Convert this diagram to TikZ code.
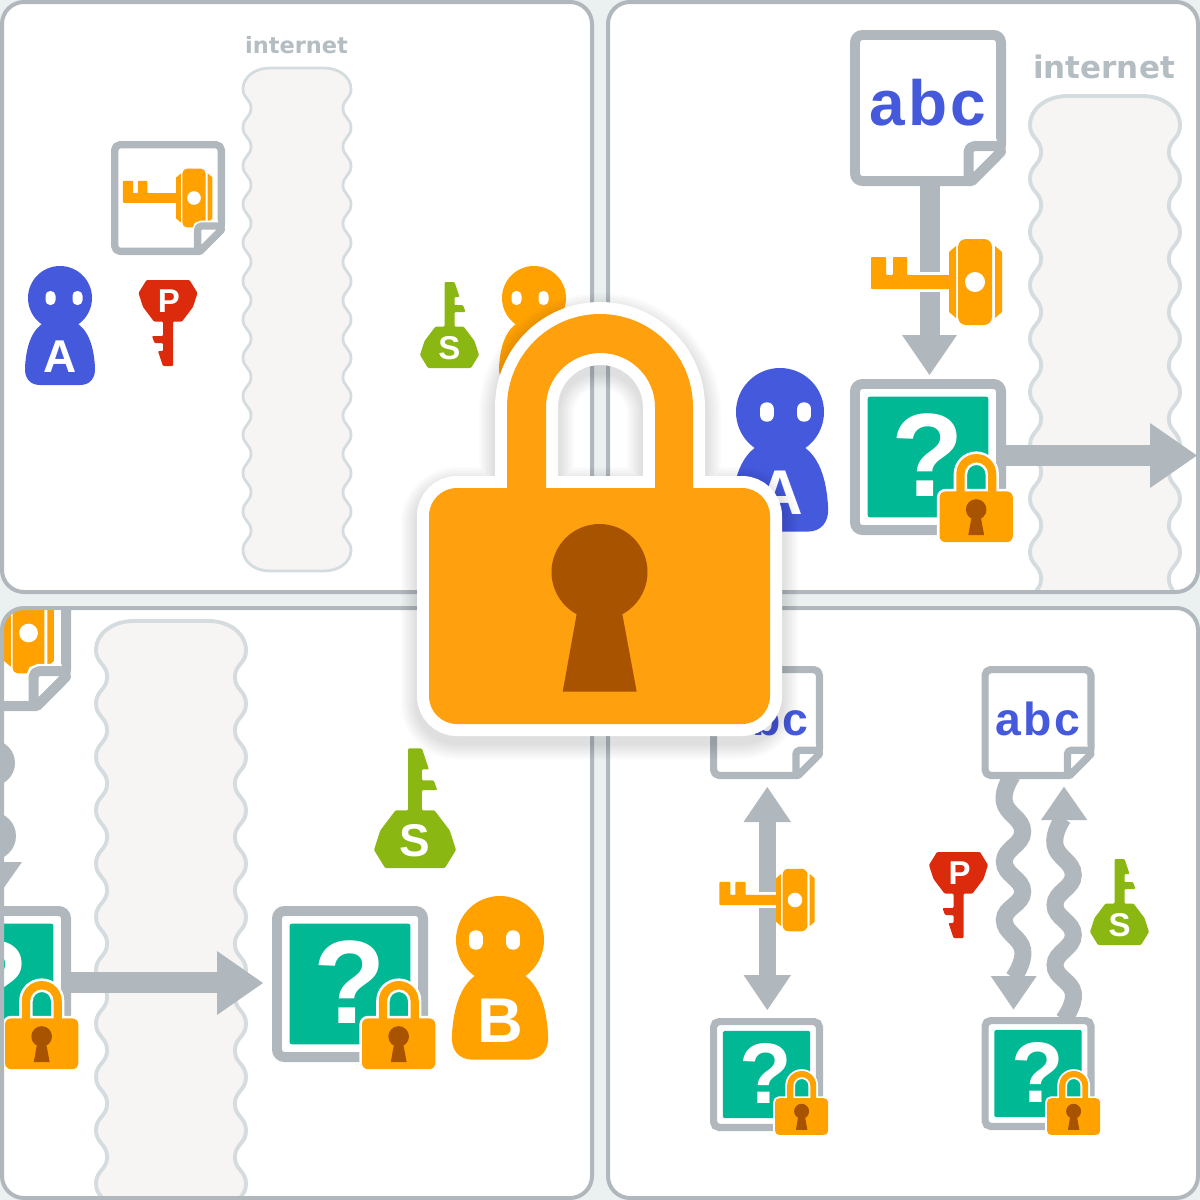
\documentclass[tikz,border=0pt]{standalone}
\usepackage{fontspec}
\setmainfont{Liberation Sans}
\newfontfamily\netfont{DejaVu Sans}
\newfontfamily\abcfont[LetterSpace=5]{Liberation Sans}
\definecolor{cgray}{HTML}{B0B8BD}
\definecolor{cblue}{HTML}{4559DD}
\definecolor{corange}{HTML}{FFA200}
\definecolor{cbig}{HTML}{FFA00F}
\definecolor{cbrown}{HTML}{A85300}
\definecolor{cteal}{HTML}{00B894}
\definecolor{cred}{HTML}{DC2A0C}
\definecolor{cgreen}{HTML}{8AB712}
\definecolor{cbg}{HTML}{EBF0F0}
\definecolor{ccloud}{HTML}{F6F5F3}
\definecolor{ccline}{HTML}{D5DCDF}
\definecolor{cnet}{HTML}{B4BDC2}
\tikzset{
  panelframe/.style={draw=cgray,line width=4pt},
  bold text/.style={inner sep=0pt,font=\fontsize{#1}{#1}\selectfont\bfseries},
  net text/.style={inner sep=0pt,text=cnet,font=\netfont\fontsize{#1}{#1}\selectfont\bfseries},
}
% ---------- page-like outline, canonical 100-unit interior
\newcommand\docicon[4]{\begingroup
  \pgfmathsetmacro\uu{#3/100}\pgfmathsetmacro\lw{6.4*\uu}\pgfmathsetmacro\lwh{9.4*\uu}\pgfmathsetmacro\rc{4.8*\uu}\pgfmathsetmacro\rf{3.5*\uu}
  \begin{scope}[shift={(#1,#2)},scale=\uu]
    \draw[cgray,fill=white,line width=\lw pt,line join=round]
      (3.2,12) [rounded corners=\rc pt] -- (3.2,3.2) -- (96.8,3.2) -- (96.8,78) [sharp corners] -- (78,96.8) [rounded corners=\rc pt] -- (3.2,96.8) -- (3.2,12);
    #4
    \draw[white,line width=\lwh pt,rounded corners=\rf pt] (76,93) -- (76,74.5) -- (94,74.5);
    \fill[white] (76,74.5) -- (96,74.5) -- (96,78) -- (78,96) -- (76,96) -- cycle;
    \draw[cgray,line width=\lw pt,line join=round] (76,98) [rounded corners=\rf pt] -- (76,74.5) -- (96.8,74.5) [sharp corners] -- (96.8,78) -- (78,96.8);
  \end{scope}
\endgroup}
\newcommand\abctext[1]{\pgfmathsetmacro\fs{41*#1/100}%
  \node[inner sep=0pt,text=cblue,anchor=base,font=\abcfont\fontsize{\fs}{\fs}\selectfont\bfseries] (abclabel) at (50,61.5) {abc};}
% ---------- locked "?" box
\newcommand\qbox[3]{\begingroup
  \pgfmathsetmacro\uu{#3/100}\pgfmathsetmacro\lw{6.4*\uu}\pgfmathsetmacro\fs{76*\uu}\pgfmathsetmacro\rc{4.8*\uu}\pgfmathsetmacro\rt{1.5*\uu}
  \begin{scope}[shift={(#1,#2)},scale=\uu]
    \draw[cgray,fill=white,line width=\lw pt,rounded corners=\rc pt] (3.2,3.2) rectangle (96.8,96.8);
    \fill[cteal,rounded corners=\rt pt] (11.3,11.3) rectangle (88.7,88.7);
    \node[bold text=\fs,text=white] (qmark) at (49.6,48.7) {?};
  \end{scope}
\endgroup}
% ---------- padlock (canonical: 341 x 410)
\newcommand\lockring{(78,180) -- (78,93) arc[start angle=180,end angle=360,radius=93] -- (264,180) -- cycle}
\newcommand\lockhole{(117,180) -- (117,93) arc[start angle=180,end angle=360,x radius=54.5,y radius=54] -- (226,180) -- cycle}
\newcommand\lockicon[4]{\begingroup
  \pgfmathsetmacro\hal{24*#3}\pgfmathsetmacro\rc{28*#3}
  \begin{scope}[shift={(#1,#2)},scale=#3]
    \draw[white,fill=white,even odd rule,line width=\hal pt,line join=round] \lockring \lockhole;
    \draw[white,fill=white,line width=\hal pt,rounded corners=\rc pt] (0,174) rectangle (341,410);
    \fill[#4,even odd rule] \lockring \lockhole;
    \fill[#4,rounded corners=\rc pt] (0,174) rectangle (341,410);
    \fill[cbrown] (170.5,258) circle[radius=48];
    \fill[cbrown] (147.7,300) -- (193.3,300) -- (207.7,377.7) -- (133.7,377.7) -- cycle;
  \end{scope}
\endgroup}
% ---------- orange key: origin at the hole
\newcommand\keyshaft{(-104,7) -- (-104,-25) -- (-89,-25) -- (-89,-7) -- (-82,-7) -- (-82,-25) -- (-68,-25) -- (-68,-7) -- (-24,-7) -- (-24,7) -- cycle}
\newcommand\orangekey[4]{\begingroup
  \pgfmathsetmacro\rc{8*#3}
  \begin{scope}[shift={(#1,#2)},scale=#3]
    #4
    \fill[corange,rounded corners=0.8pt] \keyshaft;
    \fill[corange] (-26,-30) -- (-19,-36) -- (-19,36) -- (-26,30) -- cycle;
    \fill[corange] (27,-30) -- (20,-36) -- (20,36) -- (27,30) -- cycle;
    \fill[corange,rounded corners=\rc pt] (-17,-43) rectangle (17,43);
    \fill[white] (0,0) circle[radius=10];
  \end{scope}
\endgroup}
\newcommand\keyhalo{\draw[white,line width=6pt,line join=round] \keyshaft;}
% ---------- red and green keys
\newcommand\keyoutline{(-21.5,0) -- (21.5,0) -- (29.5,13) -- (25,27) -- (14,41.5) -- (5,41.5) -- (5,86) -- (-5,86) -- (-10,71) -- (-5,71) -- (-5,63) -- (-13.5,63) -- (-16,56) -- (-5,56) -- (-5,41.5) -- (-14,41.5) -- (-25,27) -- (-29.5,13) -- cycle}
\newcommand\redkey[3]{\begingroup\pgfmathsetmacro\fs{33*#3}
  \begin{scope}[shift={(#1,#2)},scale=#3]
    \fill[cred,rounded corners=1pt] \keyoutline;
    \node[bold text=\fs,text=white] (plabel) at (1,21.5) {P};
  \end{scope}\endgroup}
\newcommand\greenkey[3]{\begingroup\pgfmathsetmacro\fs{33*#3}
  \begin{scope}[shift={(#1,#2)},scale=#3]
    \begin{scope}[rotate=180]
      \fill[cgreen,rounded corners=1pt] \keyoutline;
    \end{scope}
    \node[bold text=\fs,text=white] (slabel) at (0,-20) {S};
  \end{scope}\endgroup}
% ---------- person: origin head centre; #4 colour, #5 letter, #6 eye offset
\newcommand\person[6]{\begingroup\pgfmathsetmacro\fs{46*#3}\pgfmathsetmacro\re{4.6*#3}
  \begin{scope}[shift={(#1,#2)},scale=#3]
    \fill[#4] (0,0) circle[radius=32];
    \fill[#4] (-15,24) .. controls (-28,31) and (-34,48) .. (-35,70)
       .. controls (-35.5,80) and (-30,87) .. (-20,87) -- (20,87)
       .. controls (30,87) and (35.5,80) .. (35,70)
       .. controls (34,48) and (28,31) .. (15,24) -- cycle;
    \fill[white,rounded corners=\re pt] (#6-18.5,-7) rectangle (#6-8.5,7);
    \fill[white,rounded corners=\re pt] (#6+8.5,-7) rectangle (#6+18.5,7);
    \node[bold text=\fs,text=white] (personlabel) at (0,59) {#5};
  \end{scope}\endgroup}
% ---------- internet cloud
\newcommand\cloud[3]{\begingroup\pgfmathsetmacro\lw{2.8*#3}
  \begin{scope}[shift={(#1,#2)},scale=#3]
    \draw[ccline,fill=ccloud,line width=\lw pt]
      (0,21)
      \foreach \k [evaluate=\k as \yy using 21+38.4*\k] in {0,...,11} {
        .. controls (0,\yy+9.5) and (8,\yy+10) .. (8,\yy+19.2)
        .. controls (8,\yy+28.4) and (0,\yy+28.9) .. (0,\yy+38.4)
      }
      .. controls (0,494) and (12,503) .. (27,503) -- (81,503)
      .. controls (96,503) and (108,494) .. (108,482)
      \foreach \k [evaluate=\k as \yy using 482-38.4*\k] in {0,...,11} {
        .. controls (108,\yy-9.5) and (100,\yy-10) .. (100,\yy-19.2)
        .. controls (100,\yy-28.4) and (108,\yy-28.9) .. (108,\yy-38.4)
      }
      .. controls (108,9) and (96,0) .. (81,0) -- (27,0)
      .. controls (12,0) and (0,9) .. (0,21) -- cycle;
  \end{scope}\endgroup}
\newcommand\keydoc{\orangekey{72.8}{50}{0.6}{}}
\begin{document}
\begin{tikzpicture}[x=1pt,y=-1pt]
\useasboundingbox (0,0) rectangle (1200,1200);
\fill[cbg] (0,0) rectangle (1200,1200);
% ================= top left
\begin{scope}
  \clip[rounded corners=22pt] (2,2) rectangle (592,592);
  \fill[white] (2,2) rectangle (592,592);
  \cloud{243}{68}{1}
  \node[net text=22.5] (nettl) at (296.5,45.5) {internet};
  \docicon{111}{141}{114}{\keydoc}
  \person{60}{298}{1}{cblue}{A}{4}
  \redkey{168}{280}{1}
  \greenkey{449.5}{368}{1}
  \person{534}{298}{1}{corange}{B}{-4}
\end{scope}
\draw[panelframe,rounded corners=22pt] (2,2) rectangle (592,592);
% ================= top right
\begin{scope}
  \clip[rounded corners=22pt] (608,2) rectangle (1198,592);
  \fill[white] (608,2) rectangle (1198,592);
  \cloud{1030}{96}{1.389}
  \node[net text=31] (nettr) at (1104,67) {internet};
  \fill[cgray] (919.5,186) rectangle (940,336);
  \fill[cgray] (902,335) -- (957,335) -- (929.5,375) -- cycle;
  \docicon{850}{30}{156}{\abctext{156}}
  \orangekey{975}{282}{1}{\keyhalo}
  \person{780}{412}{1.375}{cblue}{A}{4}
  \fill[cgray] (1000,445) rectangle (1151,466);
  \fill[cgray] (1150,423) -- (1197,455.5) -- (1150,488) -- cycle;
  \qbox{850}{379}{156}
  \lockicon{939.5}{454}{0.215}{corange}
\end{scope}
\draw[panelframe,rounded corners=22pt] (608,2) rectangle (1198,592);
% ================= bottom left
\begin{scope}
  \clip[rounded corners=22pt] (2,608) rectangle (592,1198);
  \fill[white] (2,608) rectangle (592,1198);
  \cloud{96}{621}{1.389}
  \fill[cgray] (-15,711) rectangle (4,870);
  \fill[cgray] (-8,763) circle[radius=23];
  \fill[cgray] (-8,836) circle[radius=24];
  \fill[cgray] (-33,862) -- (22,862) -- (-5.5,901) -- cycle;
  \docicon{-85}{555}{156}{\keydoc}
  \fill[cgray] (65,972) rectangle (218,993);
  \fill[cgray] (217,951) -- (263,983) -- (217,1015) -- cycle;
  \qbox{-85}{906}{156}
  \lockicon{5}{981}{0.215}{corange}
  \greenkey{415}{868}{1.39}
  \qbox{272}{906}{156}
  \lockicon{362}{981}{0.215}{corange}
  \person{500}{940}{1.375}{corange}{B}{-4}
\end{scope}
\draw[panelframe,rounded corners=22pt] (2,608) rectangle (592,1198);
% ================= bottom right
\begin{scope}
  \clip[rounded corners=22pt] (608,608) rectangle (1198,1198);
  \fill[white] (608,608) rectangle (1198,1198);
  \fill[cgray] (759,820) rectangle (776,977);
  \fill[cgray] (743.5,822) -- (791,822) -- (767.3,787) -- cycle;
  \fill[cgray] (743.5,975) -- (791,975) -- (767.3,1010) -- cycle;
  \docicon{710}{666}{113}{\abctext{113}}
  \orangekey{795}{900}{0.727}{\keyhalo}
  \qbox{710}{1018}{113}
  \lockicon{775}{1071}{0.156}{corange}
  \draw[cgray,line width=17pt] plot[smooth,tension=.8] coordinates {(1012.7,775) (1004.3,801.7) (1022.7,831.7) (1004.3,861.7) (1022.7,891.7) (1004.3,920) (1022.7,950) (1013.3,978)};
  \fill[cgray] (990.7,976) -- (1036.7,976) -- (1013.5,1009.5) -- cycle;
  \draw[cgray,line width=17pt] plot[smooth,tension=.8] coordinates {(1063.3,1020) (1073.3,993) (1055,965) (1073.3,935) (1055,905) (1073.3,875) (1055,845) (1063.3,818)};
  \fill[cgray] (1041,820) -- (1087.3,820) -- (1064,786.7) -- cycle;
  \docicon{981.5}{666}{113}{\abctext{113}}
  \qbox{981.5}{1017}{113}
  \lockicon{1047}{1071}{0.156}{corange}
  \redkey{958.5}{852}{1}
  \greenkey{1119.5}{945}{1}
\end{scope}
\draw[panelframe,rounded corners=22pt] (608,608) rectangle (1198,1198);
% ================= big lock with soft shadow
\begin{scope}[shift={(429,321)}]
  \foreach \w in {56,52,48,44,40,36,32,28} {
    \draw[black,opacity=.014,line width=\w pt,line join=round] \lockring \lockhole (0,174) [rounded corners=28pt] rectangle (341,410);
  }
\end{scope}
\lockicon{429}{314}{1}{cbig}
\end{tikzpicture}
\end{document}
